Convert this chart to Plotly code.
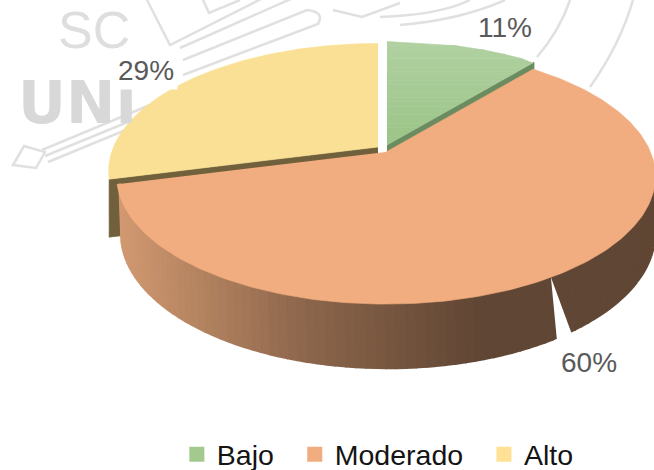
import numpy as np
import plotly.graph_objects as go

# ---- data ----
categories = ["Bajo", "Moderado", "Alto"]
values = [11, 60, 29]
slice_colors = ["#A3C98E", "#F1AD7F", "#FAE094"]
side_colors = ["#6B8B60", None, "#70603C"]

W, H = 654, 470
K, A, B = 0.19, 264.5, 123.2
ANCHORS = {"Bajo": (387, 145), "Moderado": (386, 152), "Alto": (378, 147)}
DROP, A_LOW, B_LOW, SHIFT_LOW = 56, 262.0, 129.6, 2
WALL_HIDDEN_UNTIL = 78  # the wall behind the top face is never seen before this angle
WALL_INSET = 2.5        # keeps the wall's upper edge tucked under the top face


def rim(theta, cx, cy):
    t = np.radians(theta)
    d = 1 + K * np.cos(t)
    return cx + A * np.sin(t) / d, cy - B * np.cos(t) / d


def inner_rim(theta, cx, cy):
    x, y = rim(theta, cx, cy)
    t = np.radians(theta)
    return x - WALL_INSET * np.sin(t), y + WALL_INSET * np.cos(t)


def low_rim(theta, cx, cy):
    t = np.radians(theta)
    d = 1 + K * np.cos(t)
    return cx + SHIFT_LOW + A_LOW * np.sin(t) / d, cy + DROP - B_LOW * np.cos(t) / d


def poly(x, y, color, width=0.6):
    return go.Scatter(x=list(x), y=list(y), mode="lines", fill="toself", fillcolor=color,
                      line=dict(color=color, width=width), hoverinfo="skip", showlegend=False)


def lerp_color(x):
    stops_x = [120, 200, 300, 400, 480, 654]
    r = np.interp(x, stops_x, [210, 180, 142, 116, 96, 96])
    g = np.interp(x, stops_x, [153, 131, 103, 84, 70, 70])
    b = np.interp(x, stops_x, [113, 96, 77, 62, 52, 52])
    return f"rgb({r:.0f},{g:.0f},{b:.0f})"


total = sum(values)
edges = np.cumsum([0] + values) / total * 360
span = {c: (edges[i], edges[i + 1]) for i, c in enumerate(categories)}
fig = go.Figure()

# ---- cut faces of the two back slices ----
for i, c in enumerate(categories):
    if side_colors[i] is None:
        continue
    cx, cy = ANCHORS[c]
    th = span[c][1] if c == "Bajo" else span[c][0]
    ex, ey = rim(th, cx, cy)
    depth = 58
    fig.add_trace(poly([cx, ex, ex, cx], [cy, ey, ey + depth, cy + depth], side_colors[i]))

# ---- top of Alto ----
cx, cy = ANCHORS["Alto"]
th = np.linspace(*span["Alto"], 120)
rx, ry = rim(th, cx, cy)
fig.add_trace(poly(np.r_[cx, rx], np.r_[cy, ry], slice_colors[2]))

# ---- top of Bajo, vertical gradient ----
cx, cy = ANCHORS["Bajo"]
th = np.linspace(*span["Bajo"], 60)
rx, ry = rim(th, cx, cy)
bx = np.r_[rx, cx]
by = np.r_[ry, cy]
bands = np.linspace(ry.min(), cy, 25)
for j in range(len(bands) - 1):
    ya, yb = bands[j], bands[j + 1]
    order = np.argsort(by)
    xa = np.interp(ya, by[order], bx[order])
    xb = np.interp(yb, by[order], bx[order])
    f = j / (len(bands) - 2)
    col = f"rgb({176 - 21 * f:.0f},{208 - 11 * f:.0f},{160 - 24 * f:.0f})"
    fig.add_trace(poly([cx, xa, xb, cx], [ya, ya, yb, yb], col))

# ---- outer wall of Moderado, horizontal gradient ----
cx, cy = ANCHORS["Moderado"]
th = np.linspace(max(span["Moderado"][0], WALL_HIDDEN_UNTIL), span["Moderado"][1], 100)
for j in range(len(th) - 1):
    a, b = th[j], th[j + 1]
    xa, ya = inner_rim(a, cx, cy)
    xb, yb = inner_rim(b, cx, cy)
    xc, yc = low_rim(b, cx, cy)
    xd, yd = low_rim(a, cx, cy)
    col = lerp_color((xa + xb + xc + xd) / 4)
    fig.add_trace(go.Scatter(x=[xa, xb, xc, xd], y=[ya, yb, yc, yd],
                             mode="lines", fill="toself",
                             fillcolor=col, line=dict(color=col, width=2.5), hoverinfo="skip",
                             showlegend=False))

# ---- slit in the wall ----
gx0, gy0 = rim(148.5, cx, cy)
gx1, gy1 = low_rim(147.2, cx, cy)
gx2, gy2 = low_rim(143.6, cx, cy)
fig.add_trace(poly([gx0, gx1, gx2], [gy0, gy1 + 2, gy2 + 2], "white", 0))

# ---- top of Moderado ----
th = np.linspace(*span["Moderado"], 220)
rx, ry = rim(th, cx, cy)
fig.add_trace(poly(np.r_[cx, rx], np.r_[cy, ry], slice_colors[1]))

# ---- legend entries ----
for c, col in zip(categories, ["#A3C98E", "#F1AD7F", "#FFE196"]):
    fig.add_trace(go.Scatter(x=[None], y=[None], mode="markers", name=c + "\u00a0\u00a0",
                             marker=dict(symbol="square", size=15, color=col)))

# ---- faint watermark behind the chart ----
GR = "#E0E0E0"
wm = []
for path in [
    "M 147 0 L 170 45 L 265 -3",
    "M 180 48 L 293 -2",
    "M 183 60 L 307 10 Q 325 12 318 24 L 183 75",
    "M 203 0 L 209 13 L 240 0",
    "M 333 10 L 362 17 L 400 3",
    "M 380 17 Q 440 15 470 0",
    "M 537 57 Q 560 30 570 0",
    "M 590 87 Q 620 45 633 0",
    "M 400 25 Q 460 20 505 0",
    "M 13 165 L 24 146 L 45 152 L 36 168 Z",
    "M 42 150 L 150 105",
    "M 45 156 L 150 113",
    "M 48 162 L 150 120",
]:
    wm.append(dict(type="path", path=path, line=dict(color=GR, width=2.5), layer="below"))

ann = [
    dict(x=94, y=30, text="SC", font=dict(size=52, color="#DEDEDE", family="Liberation Sans")),
    dict(x=77, y=102, text="<b>UNI</b>", font=dict(size=59, color="#D8D8D8", family="DejaVu Sans")),
]
label_font = dict(size=28, color="#595959", family="Liberation Sans")
for c, (lx, ly), bg in zip(categories, [(505, 27), (589, 362), (146, 70)],
                           ["rgba(0,0,0,0)", "rgba(0,0,0,0)", "white"]):
    pct = f"{round(values[categories.index(c)] / total * 100)}%"
    ann.append(dict(x=lx, y=ly, text=pct, font=label_font, bgcolor=bg, borderpad=3))
for a in ann:
    a.update(xref="x", yref="y", showarrow=False)

fig.update_layout(
    width=W, height=H, margin=dict(l=0, r=0, t=0, b=0, autoexpand=False),
    paper_bgcolor="white", plot_bgcolor="rgba(0,0,0,0)",
    xaxis=dict(range=[0, W], visible=False, fixedrange=True),
    yaxis=dict(range=[H, 0], visible=False, fixedrange=True),
    shapes=wm, annotations=ann,
    legend=dict(orientation="h", x=0.59, xanchor="center", y=-0.022, yanchor="bottom",
                font=dict(size=28.5, color="#141414", family="Liberation Sans"),
                bgcolor="rgba(0,0,0,0)", itemclick=False, itemdoubleclick=False),
)
fig.write_html("out.html", config={"displayModeBar": False},
               post_script="document.body.style.margin='0';")
